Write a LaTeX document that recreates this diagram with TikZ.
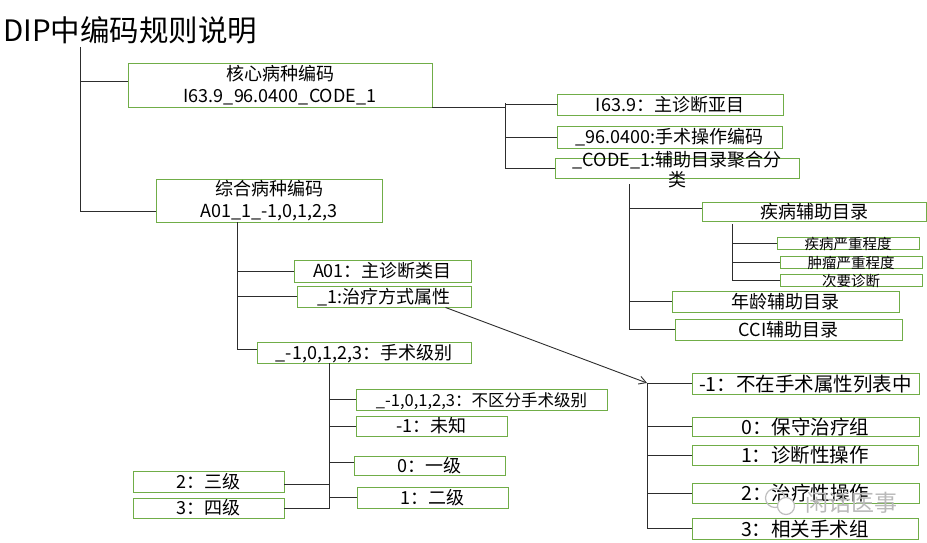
\documentclass[tikz,border=0pt]{standalone}
\usepackage{fontspec}
\setmainfont{Noto Sans CJK SC}
\usetikzlibrary{arrows.meta}
\definecolor{boxgreen}{RGB}{112,173,71}
\definecolor{linec}{RGB}{45,45,45}
\begin{document}
\begin{tikzpicture}[x=1pt,y=-1pt,
  box/.style={draw=boxgreen,line width=0.9pt,inner sep=0pt,align=center,font=\fontsize{18pt}{22pt}\selectfont},
  one/.style={text height=15pt,text depth=1.5pt},
  big/.style={font=\fontsize{19.5pt}{24pt}\selectfont,text height=16.5pt,text depth=1.5pt},
  txt/.style={inner sep=0pt,align=center},
  conn/.style={draw=linec,line width=0.9pt}]
\useasboundingbox (0,0) rectangle (927,543);

% title
\node[anchor=west,inner sep=0pt,font=\fontsize{29.5pt}{34pt}\selectfont] (title) at (3,30) {DIP中编码规则说明};

% level 1
\node[box,minimum width=304pt,minimum height=44pt] (hx) at (280,85) {核心病种编码\\I63.9\_96.0400\_CODE\_1};
\node[box,minimum width=226pt,minimum height=43pt] (zh) at (269,200.5) {综合病种编码\\A01\_1\_-1,0,1,2,3};

% core group
\node[box,one,minimum width=226pt,minimum height=21pt] (a1) at (670,104.5) {I63.9：主诊断亚目};
\node[box,one,minimum width=225pt,minimum height=22pt] (a2) at (669.5,137) {\_96.0400:手术操作编码};
\node[box,minimum width=244pt,minimum height=20pt] (a3) at (677,168) {};
\node[txt,font=\fontsize{18pt}{20pt}\selectfont] (a3t) at (677,170) {\_CODE\_1:辅助目录聚合分\\类};

\node[box,one,minimum width=224pt,minimum height=19pt] (b1) at (814.5,211.5) {疾病辅助目录};
\node[box,minimum width=142pt,minimum height=12pt] (c1) at (848,243) {};
\node[txt,font=\fontsize{14.5pt}{16pt}\selectfont] (c1t) at (848,244) {疾病严重程度};
\node[box,minimum width=142pt,minimum height=12pt] (c2) at (851,262) {};
\node[txt,font=\fontsize{14.5pt}{16pt}\selectfont] (c2t) at (851,263) {肿瘤严重程度};
\node[box,minimum width=142pt,minimum height=12pt] (c3) at (851,280) {};
\node[txt,font=\fontsize{14.5pt}{16pt}\selectfont] (c3t) at (851,281) {次要诊断};
\node[box,one,minimum width=227pt,minimum height=21pt] (b2) at (785.5,301.5) {年龄辅助目录};
\node[box,one,minimum width=227pt,minimum height=21pt] (b3) at (788.5,329.5) {CCI辅助目录};

% composite group
\node[box,one,minimum width=177pt,minimum height=22pt] (d1) at (382.5,271) {A01：主诊断类目};
\node[box,one,minimum width=174pt,minimum height=21pt] (d2) at (384,296.5) {\_1:治疗方式属性};
\node[box,one,minimum width=214pt,minimum height=21pt] (d3) at (364,352.5) {\_-1,0,1,2,3：手术级别};

\node[box,one,font=\fontsize{16.5pt}{20pt}\selectfont,minimum width=251pt,minimum height=21pt] (e1) at (481.5,399.5) {\_-1,0,1,2,3：不区分手术级别};
\node[box,one,minimum width=151pt,minimum height=20pt] (e2) at (431.5,426) {-1：未知};
\node[box,one,minimum width=151pt,minimum height=19pt] (e3) at (429.5,465.5) {0：一级};
\node[box,one,minimum width=151pt,minimum height=21pt] (e4) at (432.5,497.5) {1：二级};
\node[box,one,minimum width=151pt,minimum height=21pt] (e5) at (208.5,481.5) {2：三级};
\node[box,one,minimum width=151pt,minimum height=20pt] (e6) at (208.5,508) {3：四级};

\node[box,big,minimum width=227pt,minimum height=21pt] (f1) at (805.5,383.5) {-1：不在手术属性列表中};
\node[box,big,minimum width=227pt,minimum height=19pt] (f2) at (805.5,426.5) {0：保守治疗组};
\node[box,big,minimum width=226pt,minimum height=20pt] (f3) at (805,455) {1：诊断性操作};
\node[box,big,minimum width=227pt,minimum height=20pt] (f4) at (805.5,493) {2：治疗性操作};
\node[box,big,minimum width=226pt,minimum height=21pt] (f5) at (805,528.5) {3：相关手术组};

% connectors: title
\coordinate (t0) at (80,47);
\draw[conn] (t0) |- ([yshift=-10.5pt]zh.west);
\draw[conn] ([yshift=4pt]hx.west -| t0) -- ([yshift=4pt]hx.west);

% core
\coordinate (t1) at (505,103);
\draw[conn] (hx.south east) -- (hx.south east -| t1);
\draw[conn] (t1) |- (a3.west);
\draw[conn] (a1.west -| t1) -- (a1.west);
\draw[conn] (a2.west -| t1) -- (a2.west);

\coordinate (t2) at (629,184);
\draw[conn] (t2) |- (b3.west);
\draw[conn] ([yshift=3.5pt]b1.west -| t2) -- ([yshift=3.5pt]b1.west);
\draw[conn] (b2.west -| t2) -- (b2.west);

\coordinate (t3) at (732,224);
\draw[conn] (t3) |- (c3.west);
\draw[conn] (c1.west -| t3) -- (c1.west);
\draw[conn] (c2.west -| t3) -- (c2.west);

% composite
\coordinate (t4) at (237,222);
\draw[conn] (t4) |- ([yshift=3.5pt]d3.west);
\draw[conn] (d1.west -| t4) -- (d1.west);
\draw[conn] (d2.west -| t4) -- (d2.west);

\coordinate (t5) at (329,363);
\draw[conn] (t5) |- (e6.east);
\draw[conn] (e1.west -| t5) -- (e1.west);
\draw[conn] (e2.west -| t5) -- (e2.west);
\draw[conn] ([yshift=3.5pt]e3.west -| t5) -- ([yshift=3.5pt]e3.west);
\draw[conn] (e4.west -| t5) -- (e4.west);
\draw[conn] ([yshift=-2.5pt]e5.east) -- ([yshift=-2.5pt]e5.east -| t5);

\coordinate (t6) at (647,383);
\draw[conn,-{Straight Barb[length=7pt,width=8pt]}] ([xshift=-26pt]d2.south east) -- (t6);
\draw[conn] (t6) |- (f5.west);
\draw[conn] (f1.west -| t6) -- (f1.west);
\draw[conn] (f2.west -| t6) -- (f2.west);
\draw[conn] (f3.west -| t6) -- (f3.west);
\draw[conn] (f4.west -| t6) -- (f4.west);

% watermark
\draw[gray!50,line width=1.2pt] (775,498) circle (9.5);
\draw[gray!50,line width=1.2pt,fill=white] (786,506) circle (8.5);
\node[txt,text=gray!55,font=\fontsize{23pt}{23pt}\selectfont] (wm) at (851,503) {闲话医事};
\end{tikzpicture}
\end{document}
